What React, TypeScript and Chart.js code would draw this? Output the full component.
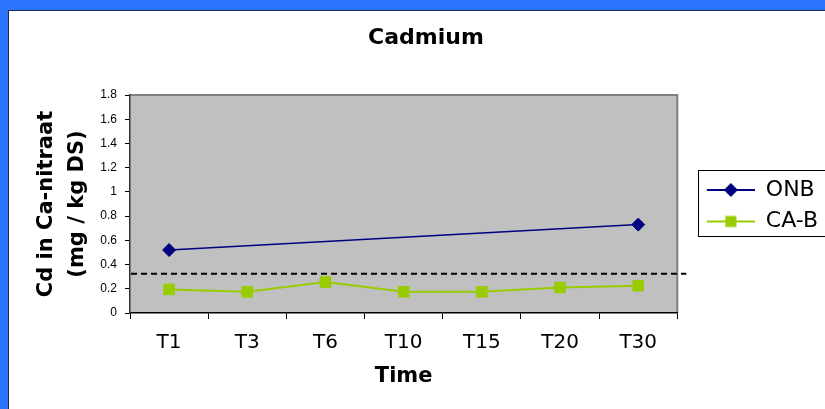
import React, { useEffect, useRef } from 'react';
import { Chart, registerables } from 'chart.js';

Chart.register(...registerables);

const CATEGORIES = ['T1', 'T3', 'T6', 'T10', 'T15', 'T20', 'T30'];
const ONB_VALUES = [0.52, null, null, null, null, null, 0.73];
const CAB_VALUES = [0.195, 0.175, 0.255, 0.175, 0.175, 0.21, 0.225];
const LIMIT_VALUE = 0.325;
const Y_MIN = 0;
const Y_MAX = 1.8;
const Y_STEP = 0.2;
const SERIES_NAMES = ['ONB', 'CA-B'];
const TITLE = 'Cadmium';
const Y_TITLE = ['Cd in Ca-nitraat', '(mg / kg DS)'];
const X_TITLE = 'Time';

const ONB_COLOR = '#000080';
const CAB_COLOR = '#99CC00';

const ICON_W = 68;
const ICON_START = 20;

function makeIcon(color: string, kind: 'diamond' | 'square'): HTMLCanvasElement {
  const c = document.createElement('canvas');
  const W = ICON_W;
  const H = 18;
  const start = ICON_START;
  c.width = W;
  c.height = H;
  const g = c.getContext('2d')!;
  g.strokeStyle = color;
  g.fillStyle = color;
  g.lineWidth = 2;
  g.beginPath();
  g.moveTo(start, H / 2);
  g.lineTo(W, H / 2);
  g.stroke();
  const cx = (start + W) / 2;
  const cy = H / 2;
  if (kind === 'diamond') {
    const r = 7;
    g.beginPath();
    g.moveTo(cx, cy - r);
    g.lineTo(cx + r, cy);
    g.lineTo(cx, cy + r);
    g.lineTo(cx - r, cy);
    g.closePath();
    g.fill();
  } else {
    const s = 11;
    g.fillRect(cx - s / 2, cy - s / 2, s, s);
  }
  return c;
}

const decorPlugin = {
  id: 'decor',
  beforeDraw(chart: any) {
    const { ctx, chartArea: a } = chart;
    ctx.save();
    ctx.fillStyle = '#C0C0C0';
    ctx.fillRect(a.left, a.top, a.right - a.left, a.bottom - a.top);
    ctx.strokeStyle = '#808080';
    ctx.lineWidth = 2;
    ctx.beginPath();
    ctx.moveTo(a.left, a.top);
    ctx.lineTo(a.right, a.top);
    ctx.lineTo(a.right, a.bottom);
    ctx.stroke();
    ctx.restore();
  },
  beforeDatasetsDraw(chart: any) {
    const { ctx, chartArea: a } = chart;
    const y = chart.scales.y.getPixelForValue(LIMIT_VALUE);
    ctx.save();
    ctx.strokeStyle = '#000';
    ctx.lineWidth = 2;
    ctx.setLineDash([6, 4]);
    ctx.beginPath();
    ctx.moveTo(a.left + 1, y);
    ctx.lineTo(a.right + 9, y);
    ctx.stroke();
    ctx.restore();
  },
  afterDraw(chart: any) {
    const lg = chart.legend;
    if (!lg || !lg.legendHitBoxes || lg.legendHitBoxes.length < 2) return;
    const hb = lg.legendHitBoxes;
    const c0 = hb[0].top + hb[0].height / 2;
    const c1 = hb[hb.length - 1].top + hb[hb.length - 1].height / 2;
    const ctx = chart.ctx;
    ctx.save();
    ctx.strokeStyle = '#000';
    ctx.lineWidth = 1;
    const left = Math.round(hb[0].left + ICON_START - 9) + 0.5;
    const top = Math.round(c0 - 20) + 0.5;
    const bottom = Math.round(c1 + 14.5) + 0.5;
    ctx.strokeRect(left, top, chart.width + 20 - left, bottom - top);
    ctx.restore();
  },
};

export default function App() {
  const ref = useRef<HTMLCanvasElement | null>(null);

  useEffect(() => {
    document.body.style.margin = '0';
    const canvas = ref.current;
    if (!canvas) return;
    const icons = [makeIcon(ONB_COLOR, 'diamond'), makeIcon(CAB_COLOR, 'square')];
    Chart.defaults.font.family = "'DejaVu Sans', Verdana, sans-serif";
    const chart = new Chart(canvas, {
      type: 'line',
      data: {
        labels: CATEGORIES,
        datasets: [
          {
            label: SERIES_NAMES[0],
            data: ONB_VALUES,
            borderColor: ONB_COLOR,
            backgroundColor: ONB_COLOR,
            borderWidth: 1.5,
            pointStyle: 'rectRot',
            pointRadius: 6.5,
            pointBorderWidth: 1,
            spanGaps: true,
            tension: 0,
          },
          {
            label: SERIES_NAMES[1],
            data: CAB_VALUES,
            borderColor: CAB_COLOR,
            backgroundColor: CAB_COLOR,
            borderWidth: 2,
            pointStyle: 'rect',
            pointRadius: 7.5,
            pointBorderWidth: 1,
            tension: 0,
          },
        ],
      },
      options: {
        responsive: false,
        animation: false,
        devicePixelRatio: 1,
        layout: { padding: { left: 15, right: -3, top: 0, bottom: 0 } },
        plugins: {
          title: {
            display: true,
            text: TITLE,
            color: '#000',
            font: { size: 22, weight: 'bold' },
            padding: { top: 13.8, bottom: 43.8 },
          },
          legend: {
            display: true,
            position: 'right',
            align: 'center',
            fullSize: false,
            title: { display: true, text: '', font: { size: 0 }, padding: { top: 3.5, bottom: 0 } },
            labels: {
              usePointStyle: true,
              pointStyleWidth: ICON_W,
              padding: 9.5,
              color: '#000',
              font: { size: 22 },
              generateLabels: (ch: any) => {
                const items = (Chart.defaults.plugins.legend.labels as any).generateLabels(ch);
                return items.map((it: any, i: number) => ({ ...it, pointStyle: icons[i], rotation: 0 }));
              },
            },
          },
          tooltip: { enabled: false },
        },
        scales: {
          x: {
            type: 'category',
            offset: true,
            grid: { offset: true, drawOnChartArea: false, drawTicks: true, tickLength: 6, color: '#000', lineWidth: 1 },
            border: { display: true, color: '#000', width: 1.5 },
            ticks: { color: '#000', font: { size: 20 }, padding: 12, maxRotation: 0, autoSkip: false },
            title: {
              display: true,
              text: X_TITLE,
              color: '#000',
              font: { size: 21, weight: 'bold' },
              padding: { top: 0, bottom: 19.4 },
            },
            afterFit: (s: any) => {
              s.height = 96;
            },
          },
          y: {
            min: Y_MIN,
            max: Y_MAX,
            grid: { drawOnChartArea: false, drawTicks: true, tickLength: 5, color: '#000', lineWidth: 1 },
            border: { display: true, color: '#333', width: 1.5 },
            ticks: {
              stepSize: Y_STEP,
              color: '#000',
              padding: 8,
              font: { family: "'Liberation Sans', Arial, sans-serif", size: 12 },
              callback: (v: any) => String(Math.round(Number(v) * 10) / 10),
            },
            title: {
              display: true,
              text: Y_TITLE,
              color: '#000',
              font: { size: 21, weight: 'bold', lineHeight: 31 / 21 },
              padding: { top: 7.5, bottom: 0 },
            },
            afterFit: (s: any) => {
              s.width = 106;
            },
          },
        },
      },
      plugins: [decorPlugin],
    } as any);
    return () => chart.destroy();
  }, []);

  return (
    <div style={{ position: 'relative', width: 825, height: 409, background: '#2A74FE', overflow: 'hidden' }}>
      <div
        style={{
          position: 'absolute',
          left: 8,
          top: 10,
          right: 0,
          bottom: 0,
          background: '#fff',
          borderLeft: '1px solid #1B2A4E',
          borderTop: '1px solid #1B2A4E',
        }}
      >
        <canvas ref={ref} width={816} height={398} style={{ display: 'block', width: 816, height: 398 }} />
      </div>
    </div>
  );
}
